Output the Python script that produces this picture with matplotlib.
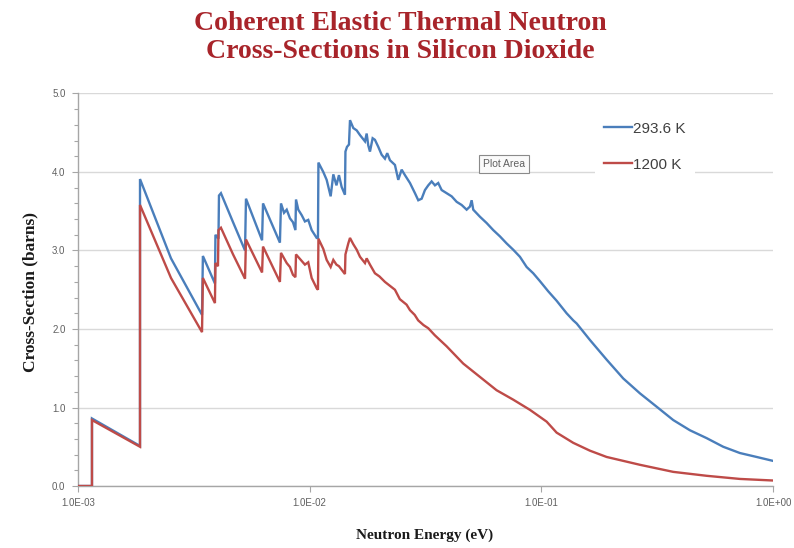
import matplotlib
matplotlib.use("Agg")
import matplotlib.pyplot as plt
from matplotlib.ticker import MultipleLocator, FixedLocator, NullLocator

# ---------------- data ----------------
energy_293 = [0.001, 0.001149, 0.001149, 0.001852, 0.001852, 0.00252, 0.00343,
              0.00346, 0.00390, 0.00392, 0.00404, 0.00406, 0.00414, 0.00467, 0.00526,
              0.00531, 0.00623, 0.00629, 0.00744, 0.00752, 0.00775, 0.00796, 0.00822,
              0.00847, 0.00868, 0.00873, 0.00893, 0.00924, 0.00954, 0.00986, 0.01020,
              0.01072, 0.01086, 0.01091, 0.01145, 0.01184, 0.01232, 0.01265, 0.01305,
              0.01338, 0.01374, 0.01420, 0.01427, 0.01449, 0.01478, 0.01493, 0.01543,
              0.01596, 0.01649, 0.01733, 0.01762, 0.01790, 0.01821, 0.01870, 0.01913,
              0.01978, 0.02045, 0.02113, 0.02162, 0.02221, 0.02334, 0.02412, 0.02495,
              0.02578, 0.02710, 0.02848, 0.02943, 0.03044, 0.03145, 0.03250, 0.03361,
              0.03474, 0.03589, 0.03713, 0.03902, 0.04101, 0.04310, 0.04529, 0.04760,
              0.04919, 0.05003, 0.05083, 0.05433, 0.05806, 0.06200, 0.06627, 0.07083,
              0.07562, 0.08083, 0.08641, 0.09226, 0.0986, 0.1071, 0.1164, 0.1286,
              0.1373, 0.1421, 0.1621, 0.1913, 0.2257, 0.2665, 0.3146, 0.3710, 0.4379,
              0.5169, 0.6095, 0.7196, 0.8497, 1.0]
xs_293 = [0.0, 0.0, 0.86, 0.51, 3.91, 2.90, 2.18,
          2.93, 2.58, 3.20, 3.15, 3.70, 3.73, 3.36, 3.00,
          3.66, 3.13, 3.60, 3.10, 3.60, 3.48, 3.52, 3.41,
          3.36, 3.26, 3.65, 3.52, 3.45, 3.37, 3.39, 3.26,
          3.16, 3.16, 4.12, 4.00, 3.90, 3.69, 3.97, 3.83,
          3.96, 3.81, 3.71, 4.26, 4.32, 4.35, 4.66, 4.56,
          4.53, 4.47, 4.39, 4.49, 4.34, 4.26, 4.43, 4.41,
          4.32, 4.22, 4.17, 4.24, 4.15, 4.09, 3.90, 4.03,
          3.96, 3.86, 3.73, 3.64, 3.66, 3.77, 3.83, 3.88,
          3.83, 3.86, 3.77, 3.73, 3.69, 3.62, 3.58, 3.52,
          3.56, 3.64, 3.52, 3.43, 3.35, 3.26, 3.18, 3.09,
          3.01, 2.92, 2.79, 2.71, 2.61, 2.48, 2.36, 2.20,
          2.11, 2.07, 1.86, 1.61, 1.37, 1.18, 1.01, 0.84, 0.71,
          0.61, 0.50, 0.42, 0.37, 0.32]

energy_1200 = [0.001, 0.001149, 0.001149, 0.001852, 0.001852, 0.00252, 0.00343,
               0.00346, 0.00390, 0.00392, 0.00402, 0.00404, 0.00414, 0.00467, 0.00526,
               0.00531, 0.00623, 0.00629, 0.00744, 0.00752, 0.00796, 0.00822, 0.00847,
               0.00868, 0.00873, 0.00954, 0.00986, 0.0102, 0.01072, 0.01086, 0.01091,
               0.01145, 0.01184, 0.01232, 0.01265, 0.01305, 0.01338, 0.01420, 0.01427,
               0.01468, 0.01493, 0.01543, 0.01596, 0.01649, 0.01733, 0.01762, 0.01821,
               0.01913, 0.0200, 0.02113, 0.02334, 0.0245, 0.0262, 0.0271, 0.0284,
               0.0294, 0.0310, 0.0325, 0.0347, 0.0390, 0.0460, 0.0543, 0.0641,
               0.0756, 0.0893, 0.1054, 0.1164, 0.1373, 0.1621, 0.1913, 0.2665,
               0.3710, 0.5169, 0.7196, 1.0]
xs_1200 = [0.0, 0.0, 0.84, 0.50, 3.58, 2.65, 1.96,
           2.65, 2.33, 2.84, 2.80, 3.26, 3.29, 2.95, 2.64,
           3.14, 2.72, 3.05, 2.60, 2.97, 2.84, 2.79, 2.69,
           2.66, 2.95, 2.82, 2.85, 2.65, 2.52, 2.50, 3.15,
           3.02, 2.88, 2.79, 2.88, 2.82, 2.80, 2.70, 2.95,
           3.09, 3.16, 3.08, 3.01, 2.92, 2.84, 2.90, 2.82,
           2.71, 2.67, 2.60, 2.50, 2.38, 2.31, 2.24, 2.18,
           2.11, 2.05, 2.01, 1.92, 1.78, 1.56, 1.39, 1.22,
           1.10, 0.97, 0.82, 0.68, 0.55, 0.45, 0.37, 0.27,
           0.18, 0.13, 0.09, 0.07]

series_labels = ["293.6 K", "1200 K"]
x_tick_values = [1e-3, 1e-2, 1e-1, 1e0]
x_tick_labels = ["1.0E-03", "1.0E-02", "1.0E-01", "1.0E+00"]
y_tick_values = [0, 1, 2, 3, 4, 5]
y_tick_labels = ["0.0", "1.0", "2.0", "3.0", "4.0", "5.0"]

title_lines = ["Coherent Elastic Thermal Neutron", "Cross-Sections in Silicon Dioxide"]
x_label = "Neutron Energy (eV)"
y_label = "Cross-Section (barns)"

# ---------------- figure ----------------
W, H = 794, 548
fig = plt.figure(figsize=(W / 100, H / 100), dpi=100)
fig.patch.set_facecolor("white")

ax = fig.add_axes([78 / W, 1 - 486 / H, (773 - 78) / W, (486 - 93.5) / H])

blue = "#4a7ebb"
red = "#be4b48"
ax.plot(energy_293, xs_293, color=blue, lw=1.7, label=series_labels[0], zorder=3,
        solid_joinstyle="miter")
ax.plot(energy_1200, xs_1200, color=red, lw=1.7, label=series_labels[1], zorder=4,
        solid_joinstyle="miter")

ax.set_xscale("log")
ax.set_xlim(1e-3, 1.0)
ax.set_ylim(0, 5)

ax.xaxis.set_major_locator(FixedLocator(x_tick_values))
ax.xaxis.set_minor_locator(NullLocator())
ax.set_xticklabels(x_tick_labels)
ax.set_yticks(y_tick_values)
ax.set_yticklabels(y_tick_labels)
ax.yaxis.set_minor_locator(MultipleLocator(0.2))

ax.grid(axis="y", which="major", color="#d9d9d9", lw=1.0, zorder=0)
for s in ["top", "right"]:
    ax.spines[s].set_visible(False)
for s in ["left", "bottom"]:
    ax.spines[s].set_color("#a6a6a6")
    ax.spines[s].set_linewidth(1.0)

ax.tick_params(axis="both", which="major", direction="out", length=4, width=0.8,
               color="#a6a6a6", labelsize=7, labelcolor="#606060", pad=5)
ax.tick_params(axis="y", which="minor", direction="out", length=3, width=0.8,
               color="#a6a6a6")
for lab in ax.get_xticklabels() + ax.get_yticklabels():
    lab.set_family(["Liberation Sans", "DejaVu Sans"])

serif = ["Liberation Serif", "DejaVu Serif"]
for line, ypix in zip(title_lines, [23, 51]):
    fig.text(0.504, 1 - ypix / H, line, ha="center", va="center", fontsize=20,
             fontweight="bold", family=serif, color="#a8242a")
fig.text(425 / W, 1 - 535 / H, x_label, ha="center", va="center", fontsize=11,
         fontweight="bold", family=serif, color="#1a1a1a")
fig.text(30 / W, 1 - 292 / H, y_label, ha="center", va="center", rotation=90,
         fontsize=12.5, fontweight="bold", family=serif, color="#1a1a1a")

leg = ax.legend(loc="upper left", bbox_to_anchor=((595 - 78) / 695, 0.952),
                frameon=True, fancybox=False, framealpha=1.0, edgecolor="none",
                facecolor="white", fontsize=11, handlelength=1.8, handletextpad=0.1,
                labelspacing=1.45, borderpad=0.6, borderaxespad=0)
for t in leg.get_texts():
    t.set_color("#404040")
    t.set_family(["Liberation Sans", "DejaVu Sans"])
leg.set_zorder(5)

fig.text(504 / W, 1 - 164 / H, "Plot Area", ha="center", va="center", fontsize=7.5,
         color="#606060", family=["Liberation Sans", "DejaVu Sans"],
         bbox=dict(boxstyle="square,pad=0.4", facecolor="#fafafa", edgecolor="#8a8a8a",
                   linewidth=0.8), zorder=6)

fig.savefig("out.png", dpi=100, facecolor="white")
